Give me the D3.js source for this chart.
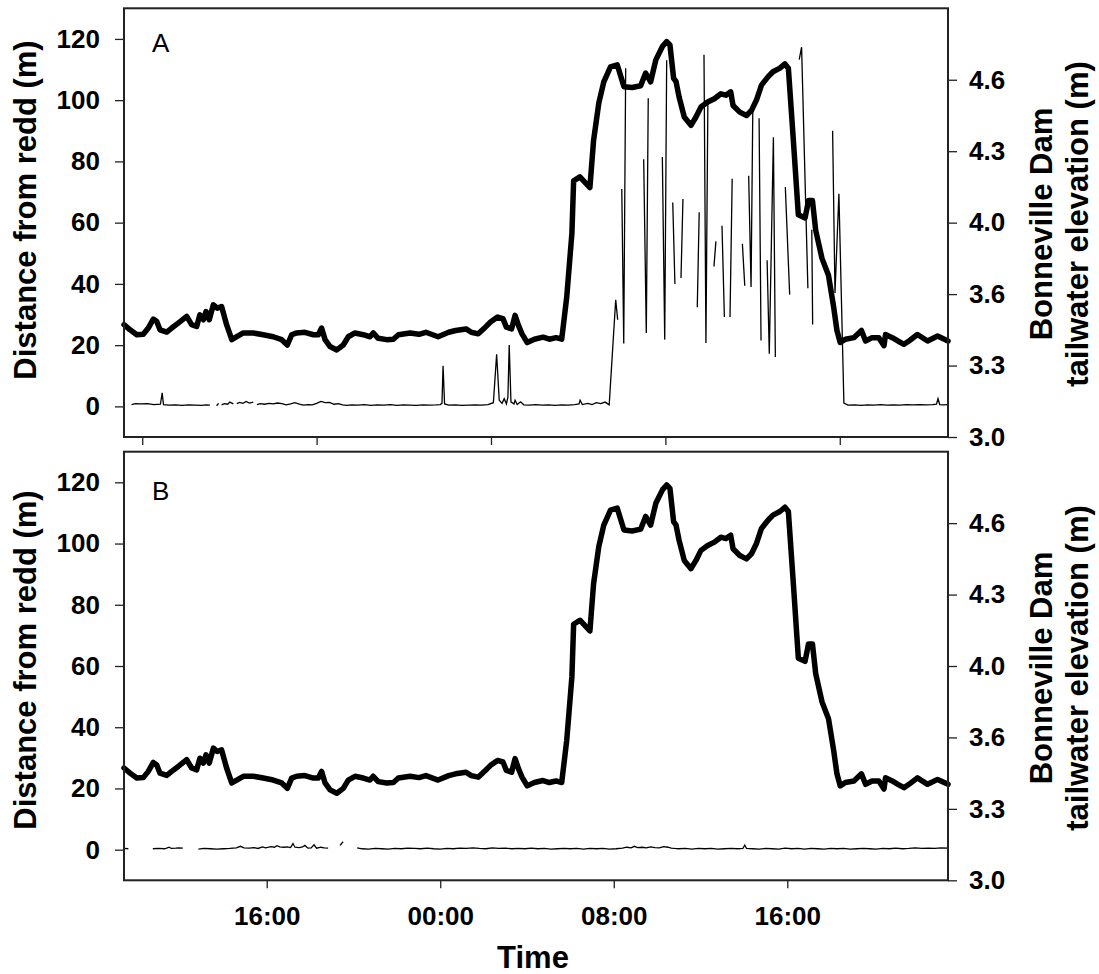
<!DOCTYPE html>
<html>
<head>
<meta charset="utf-8">
<script src="https://cdn.jsdelivr.net/npm/d3@7/dist/d3.min.js"></script>
<style>
  html, body { margin: 0; padding: 0; background: #fff; }
  svg { display: block; }
  text { font-family: "Liberation Sans", Arial, sans-serif; fill: #000; }
</style>
</head>
<body>
<div id="chart"></div>
<script>
// time is hours from midnight of day 1 (24 = 00:00 day 2, 40 = 16:00 day 2)
var timeDomain = [9.42, 47.41];
var timeTicks = [16, 24, 32, 40];
var timeTickLabels = ['16:00', '00:00', '08:00', '16:00'];
// panel A bottom ticks sit at other positions in the original
var timeTicksA = [10.26, 18.3, 26.34, 34.38, 42.42];

var distanceDomain = [-10, 130];
var distanceTicks = [0, 20, 40, 60, 80, 100, 120];
var elevationDomain = [3.0, 4.92];
var elevationTicks = [3.0, 3.32, 3.64, 3.96, 4.28, 4.6];

// Bonneville Dam tailwater elevation (m), same in both panels
var tailwater = [
  [9.42, 3.503], [9.70, 3.480], [10.01, 3.458], [10.31, 3.460], [10.54, 3.488],
  [10.77, 3.528], [10.93, 3.517], [11.08, 3.480], [11.39, 3.470], [11.62, 3.488],
  [11.92, 3.510], [12.31, 3.540], [12.54, 3.503], [12.77, 3.495], [12.92, 3.547],
  [13.08, 3.525], [13.20, 3.562], [13.35, 3.525], [13.54, 3.592], [13.72, 3.577],
  [13.92, 3.584], [14.15, 3.503], [14.39, 3.436], [14.62, 3.449], [14.92, 3.466],
  [15.38, 3.466], [15.84, 3.458], [16.30, 3.449], [16.69, 3.436], [16.95, 3.412],
  [17.15, 3.458], [17.38, 3.466], [17.76, 3.469], [18.15, 3.458], [18.38, 3.458],
  [18.53, 3.488], [18.69, 3.436], [18.92, 3.405], [19.23, 3.390], [19.53, 3.412],
  [19.76, 3.449], [20.07, 3.466], [20.45, 3.458], [20.76, 3.449], [20.91, 3.466],
  [21.14, 3.442], [21.53, 3.436], [21.84, 3.438], [22.07, 3.458], [22.61, 3.466],
  [23.02, 3.460], [23.34, 3.469], [23.90, 3.449], [24.39, 3.469], [24.71, 3.477],
  [25.19, 3.484], [25.43, 3.469], [25.75, 3.462], [26.08, 3.492], [26.32, 3.515],
  [26.64, 3.537], [26.89, 3.530], [27.05, 3.492], [27.29, 3.484], [27.45, 3.545],
  [27.61, 3.499], [27.77, 3.462], [28.01, 3.423], [28.34, 3.438], [28.74, 3.447],
  [29.03, 3.438], [29.34, 3.445], [29.60, 3.438], [29.83, 3.625], [30.07, 3.912],
  [30.15, 4.147], [30.44, 4.165], [30.90, 4.117], [31.07, 4.329], [31.31, 4.495],
  [31.54, 4.591], [31.85, 4.658], [32.16, 4.667], [32.47, 4.569], [32.85, 4.565],
  [33.24, 4.573], [33.47, 4.630], [33.70, 4.591], [33.94, 4.689], [34.25, 4.750],
  [34.44, 4.771], [34.59, 4.756], [34.76, 4.606], [34.87, 4.592], [35.01, 4.524],
  [35.25, 4.433], [35.56, 4.396], [35.79, 4.433], [36.02, 4.478], [36.33, 4.500],
  [36.64, 4.515], [36.94, 4.537], [37.17, 4.531], [37.39, 4.546], [37.50, 4.485],
  [37.81, 4.455], [38.12, 4.440], [38.35, 4.463], [38.58, 4.509], [38.81, 4.576],
  [39.11, 4.613], [39.34, 4.636], [39.66, 4.652], [39.89, 4.671], [40.05, 4.652],
  [40.28, 4.329], [40.51, 3.995], [40.82, 3.981], [40.98, 4.059], [41.16, 4.059],
  [41.31, 3.926], [41.60, 3.800], [41.90, 3.724], [42.14, 3.581], [42.29, 3.477],
  [42.44, 3.423], [42.68, 3.438], [43.07, 3.445], [43.42, 3.477], [43.61, 3.430],
  [43.91, 3.445], [44.22, 3.445], [44.46, 3.409], [44.53, 3.459], [44.84, 3.445],
  [45.10, 3.430], [45.38, 3.415], [45.61, 3.430], [46.00, 3.459], [46.47, 3.430],
  [46.93, 3.452], [47.41, 3.430]
];

// distance from redd (m), panel A; null marks a gap in the record
var reddA = [
  [9.77, 0.6], [9.95, 0.9], [10.2, 0.8], [10.5, 0.9], [10.8, 0.6], [11.1, 0.7],
  [11.18, 4.4], [11.24, 0.6], [11.5, 0.4], [11.8, 0.5], [12.1, 0.3], [12.4, 0.5],
  [12.7, 0.4], [13.0, 0.3], [13.2, 0.5], [13.38, 0.4], [13.5, null],
  [13.69, 0.2], [13.78, 1.0], [13.85, null],
  [13.92, 0.5], [14.05, 0.9], [14.2, 0.7], [14.3, 1.4], [14.46, 0.8], [14.55, null],
  [14.62, 0.9], [14.75, 1.3], [14.9, 1.0], [15.05, 1.6], [15.2, 1.1], [15.38, 1.4], [15.45, null],
  [15.55, 0.6], [15.7, 0.9], [15.9, 0.7], [16.1, 1.0], [16.3, 0.8], [16.5, 1.1],
  [16.7, 0.9], [16.9, 0.5], [17.1, 0.8], [17.3, 1.2], [17.5, 0.7], [17.7, 0.4],
  [17.9, 0.6], [18.1, 0.5], [18.3, 1.0], [18.5, 1.6], [18.7, 1.2], [18.9, 1.3],
  [19.1, 0.7], [19.3, 0.9], [19.5, 0.5], [19.7, 0.3], [19.9, 0.5], [20.2, 0.4],
  [20.5, 0.6], [20.8, 0.3], [21.1, 0.5], [21.4, 0.4], [21.7, 0.6], [22.0, 0.3],
  [22.3, 0.5], [22.6, 0.4], [22.9, 0.3], [23.2, 0.5], [23.5, 0.4], [23.8, 0.5],
  [24.0, 0.6], [24.08, 1.0], [24.13, 13.3], [24.2, 0.8], [24.4, 0.4], [24.7, 0.5],
  [25.0, 0.3], [25.3, 0.4], [25.6, 0.5], [25.9, 0.4], [26.2, 0.6], [26.45, 1.2],
  [26.6, 17.0], [26.72, 2.0], [26.85, 1.0], [26.95, 2.5], [27.05, 0.8], [27.12, 3.0],
  [27.18, 20.0], [27.26, 1.5], [27.4, 0.8], [27.45, 2.0], [27.55, 0.6], [27.7, 1.5],
  [27.85, 0.5], [28.1, 0.4], [28.4, 0.6], [28.7, 0.4], [29.0, 0.5], [29.3, 0.3],
  [29.6, 0.5], [29.9, 0.4], [30.2, 0.6], [30.4, 0.8], [30.45, 2.0], [30.55, 0.6],
  [30.8, 1.0], [31.0, 0.6], [31.2, 1.2], [31.4, 0.9], [31.6, 1.4], [31.79, 0.5],
  [32.09, 34.8], [32.18, 28.3], [32.27, null],
  [32.37, 71.0], [32.46, 20.5], [32.55, 110.4], [32.9, null],
  [33.38, 80.7], [33.50, 24.0], [33.59, 100.6], [33.9, null],
  [34.24, 81.4], [34.35, 21.8], [34.44, 113.0], [34.6, null],
  [34.72, 66.6], [34.82, 40.0], [34.95, null],
  [35.10, 41.9], [35.19, 67.7], [35.5, null],
  [35.85, 32.4], [35.94, 63.4], [36.05, null],
  [36.16, 114.8], [36.25, 20.7], [36.34, 100.0], [36.5, null],
  [36.62, 45.7], [36.71, 53.9], [36.85, null],
  [36.99, 59.0], [37.10, 29.2], [37.2, null],
  [37.36, 29.2], [37.46, 74.3], [37.7, null],
  [37.93, 53.1], [38.04, 39.4], [38.12, null],
  [38.22, 75.3], [38.33, 39.0], [38.41, 96.8], [38.55, null],
  [38.70, 94.1], [38.79, 21.5], [38.9, null],
  [39.07, 47.7], [39.17, 17.2], [39.36, 87.9], [39.45, 16.1], [39.6, null],
  [39.91, 71.6], [40.11, 36.5], [40.3, null],
  [40.55, 113.2], [40.66, 117.3], [40.95, 38.6], [41.05, null],
  [41.13, 57.7], [41.17, 26.7], [41.5, null],
  [42.09, 90.0], [42.20, 37.0], [42.38, 69.4], [42.61, 1.1],
  [42.8, 0.4], [43.1, 0.5], [43.4, 0.3], [43.7, 0.5], [44.0, 0.4], [44.3, 0.6],
  [44.6, 0.4], [44.9, 0.5], [45.2, 0.4], [45.5, 0.6], [45.8, 0.5], [46.1, 0.6],
  [46.4, 0.5], [46.7, 0.6], [46.88, 0.7], [46.95, 2.5], [47.03, 0.6], [47.2, 0.5],
  [47.4, 0.6]
];

// distance from redd (m), panel B
var reddB = [
  [9.42, 0.4], [9.62, 0.3], [9.8, null],
  [10.75, 0.3], [11.0, 0.4], [11.3, 0.3], [11.5, 0.8], [11.6, 0.4], [11.8, 0.5],
  [11.95, 0.6], [12.13, 0.5], [12.4, null],
  [12.85, 0.2], [13.1, 0.4], [13.4, 0.3], [13.7, 0.2], [14.0, 0.3], [14.3, 0.4],
  [14.6, 0.6], [14.79, 1.1], [14.95, 0.6], [15.2, 0.5], [15.4, 0.7], [15.6, 0.4],
  [15.8, 0.9], [15.95, 0.6], [16.2, 1.0], [16.35, 0.8], [16.47, 1.3], [16.6, 0.9],
  [16.8, 0.8], [16.95, 0.9], [17.1, 0.7], [17.21, 2.0], [17.3, 0.8], [17.5, 0.7],
  [17.65, 0.9], [17.76, 1.4], [17.9, 0.5], [18.05, 0.6], [18.18, 1.6], [18.3, 0.5],
  [18.5, 0.8], [18.65, 0.6], [18.83, 0.5], [19.0, null],
  [19.38, 1.4], [19.52, 2.6], [19.7, null],
  [20.17, 0.6], [20.4, 0.3], [20.7, 0.2], [21.0, 0.4], [21.3, 0.3], [21.6, 0.2],
  [21.9, 0.4], [22.2, 0.3], [22.5, 0.5], [22.8, 0.4], [23.1, 0.3], [23.4, 0.5],
  [23.7, 0.3], [24.0, 0.2], [24.3, 0.4], [24.6, 0.3], [24.9, 0.5], [25.2, 0.4],
  [25.5, 0.6], [25.8, 0.4], [26.1, 0.3], [26.4, 0.6], [26.7, 0.4], [27.0, 0.5],
  [27.3, 0.3], [27.6, 0.4], [27.9, 0.3], [28.2, 0.5], [28.5, 0.3], [28.8, 0.4],
  [29.1, 0.2], [29.4, 0.3], [29.7, 0.4], [30.0, 0.3], [30.3, 0.4], [30.6, 0.2],
  [30.9, 0.4], [31.2, 0.3], [31.5, 0.4], [31.8, 0.2], [32.1, 0.3], [32.4, 0.5],
  [32.6, 0.8], [32.8, 0.6], [32.95, 1.1], [33.1, 0.7], [33.3, 0.8], [33.5, 0.6],
  [33.7, 0.9], [33.9, 0.7], [34.1, 0.6], [34.3, 1.0], [34.5, 0.8], [34.65, 0.5],
  [34.8, 0.4], [35.0, 0.3], [35.3, 0.4], [35.6, 0.2], [35.9, 0.4], [36.2, 0.3],
  [36.5, 0.4], [36.8, 0.2], [37.1, 0.3], [37.4, 0.4], [37.7, 0.3], [37.95, 0.4],
  [38.04, 1.5], [38.12, 0.4], [38.4, 0.3], [38.7, 0.2], [39.0, 0.4], [39.3, 0.3],
  [39.6, 0.2], [39.9, 0.5], [40.2, 0.3], [40.5, 0.4], [40.8, 0.2], [41.1, 0.4],
  [41.4, 0.3], [41.7, 0.2], [42.0, 0.4], [42.3, 0.3], [42.6, 0.4], [42.9, 0.2],
  [43.2, 0.3], [43.5, 0.4], [43.8, 0.3], [44.1, 0.2], [44.4, 0.4], [44.7, 0.3],
  [45.0, 0.5], [45.3, 0.3], [45.6, 0.4], [45.9, 0.6], [46.2, 0.4], [46.5, 0.5],
  [46.8, 0.4], [47.1, 0.6], [47.4, 0.5]
];

var width = 1099;
var height = 974;
var left = 124;
var right = 948;

var panels = [
  { label: 'A', top: 8.3, bottom: 437, redd: reddA, labelDy: 44, titleY: 210, rightTitleY: 224, ticks: timeTicksA, showTime: false },
  { label: 'B', top: 451.7, bottom: 880.3, redd: reddB, labelDy: 48, titleY: 660, rightTitleY: 668, ticks: timeTicks, showTime: true }
];

var svg = d3.select('#chart').append('svg')
  .attr('width', width)
  .attr('height', height);

var x = d3.scaleLinear().domain(timeDomain).range([left, right]);

panels.forEach(function (p) {
  var g = svg.append('g');
  var yLeft = d3.scaleLinear().domain(distanceDomain).range([p.bottom, p.top]);
  var yRight = d3.scaleLinear().domain(elevationDomain).range([p.bottom, p.top]);

  // thin line: distance from redd
  var reddLine = d3.line()
    .defined(function (d) { return d[1] !== null; })
    .x(function (d) { return x(d[0]); })
    .y(function (d) { return yLeft(d[1]); });

  g.append('path')
    .datum(p.redd)
    .attr('d', reddLine)
    .attr('fill', 'none')
    .attr('stroke', '#000')
    .attr('stroke-width', 1.3);

  // thick line: tailwater elevation
  var tailLine = d3.line()
    .x(function (d) { return x(d[0]); })
    .y(function (d) { return yRight(d[1]); });

  g.append('path')
    .datum(tailwater)
    .attr('d', tailLine)
    .attr('fill', 'none')
    .attr('stroke', '#000')
    .attr('stroke-width', 5.5)
    .attr('stroke-linejoin', 'round')
    .attr('stroke-linecap', 'round');

  // axes
  var leftAxis = d3.axisLeft(yLeft)
    .tickValues(distanceTicks)
    .tickSize(9)
    .tickSizeOuter(0)
    .tickPadding(15);

  var rightAxis = d3.axisRight(yRight)
    .tickValues(elevationTicks)
    .tickFormat(function (d) { return d.toFixed(1); })
    .tickSize(9)
    .tickSizeOuter(0)
    .tickPadding(12);

  var bottomAxis = d3.axisBottom(x)
    .tickValues(p.ticks)
    .tickSize(8)
    .tickSizeOuter(0)
    .tickPadding(18)
    .tickFormat(function (d, i) { return p.showTime ? timeTickLabels[i] : ''; });

  [
    g.append('g').attr('transform', 'translate(' + left + ',0)').call(leftAxis),
    g.append('g').attr('transform', 'translate(' + right + ',0)').call(rightAxis),
    g.append('g').attr('transform', 'translate(0,' + p.bottom + ')').call(bottomAxis)
  ].forEach(function (ax) {
    ax.select('.domain').remove();
    ax.selectAll('line').attr('stroke', '#222').attr('stroke-width', 1.3);
    ax.selectAll('text')
      .attr('fill', '#000')
      .style('font-size', '26px')
      .style('font-weight', 'bold')
      .style('font-family', '"Liberation Sans", Arial, sans-serif');
  });

  // frame
  g.append('rect')
    .attr('x', left)
    .attr('y', p.top)
    .attr('width', right - left)
    .attr('height', p.bottom - p.top)
    .attr('fill', 'none')
    .attr('stroke', '#222')
    .attr('stroke-width', 2);

  // panel letter
  g.append('text')
    .attr('x', 152)
    .attr('y', p.top + p.labelDy)
    .style('font-size', '26px')
    .text(p.label);

  // left title
  g.append('text')
    .attr('transform', 'translate(36,' + p.titleY + ') rotate(-90)')
    .attr('text-anchor', 'middle')
    .style('font-size', '31px')
    .style('font-weight', 'bold')
    .text('Distance from redd (m)');

  // right title, two lines
  g.append('text')
    .attr('transform', 'translate(1052,' + p.rightTitleY + ') rotate(-90)')
    .attr('text-anchor', 'middle')
    .style('font-size', '31px')
    .style('font-weight', 'bold')
    .text('Bonneville Dam');

  g.append('text')
    .attr('transform', 'translate(1088,' + p.rightTitleY + ') rotate(-90)')
    .attr('text-anchor', 'middle')
    .style('font-size', '31px')
    .style('font-weight', 'bold')
    .text('tailwater elevation (m)');
});

svg.append('text')
  .attr('x', 533)
  .attr('y', 968)
  .attr('text-anchor', 'middle')
  .style('font-size', '31px')
  .style('font-weight', 'bold')
  .text('Time');
</script>
</body>
</html>
